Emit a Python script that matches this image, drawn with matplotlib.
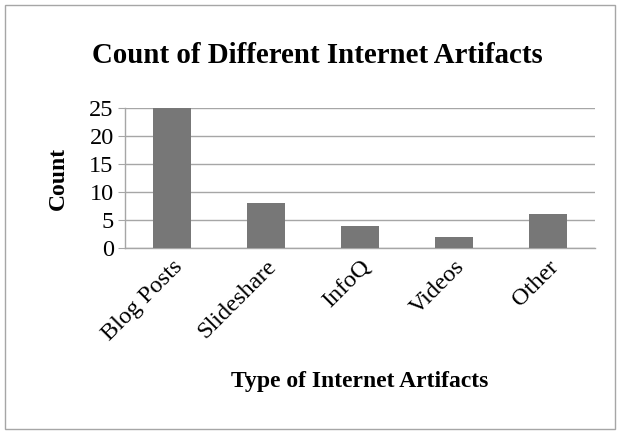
import matplotlib.pyplot as plt
from matplotlib.patches import Rectangle

categories = ['Blog Posts', 'Slideshare', 'InfoQ', 'Videos', 'Other']
counts = [25, 8, 4, 2, 6]
yticks = [0, 5, 10, 15, 20, 25]

plt.rcParams['font.family'] = ['Liberation Serif', 'DejaVu Serif']

fig = plt.figure(figsize=(6.21, 4.34), dpi=100)
ax = fig.add_axes([0.201, 0.4286, 0.757, 0.3226])

ax.bar(range(len(categories)), counts, width=0.4, color='#777777', zorder=3)
ax.set_xlim(-0.5, len(categories) - 0.5)
ax.set_ylim(0, 25)
ax.set_yticks(yticks)
ax.set_xticks(range(len(categories)))
ax.set_xticklabels(categories, rotation=45, ha='right', rotation_mode='anchor')
ax.tick_params(axis='x', length=0, labelsize=17.5, pad=6)
ax.tick_params(axis='y', length=5, color='#a6a6a6', labelsize=17.5, pad=3)
ax.grid(axis='y', color='#a6a6a6', linewidth=1, zorder=0)

for side in ['top', 'right']:
    ax.spines[side].set_visible(False)
for side in ['left', 'bottom']:
    ax.spines[side].set_color('#a6a6a6')
    ax.spines[side].set_linewidth(1)

fig.text(0.094, 0.59, 'Count', rotation=90, ha='center', va='center',
         fontsize=17, fontweight='bold')
fig.text(0.511, 0.873, 'Count of Different Internet Artifacts', ha='center', va='center',
         fontsize=20.8, fontweight='bold')
fig.text(0.58, 0.122, 'Type of Internet Artifacts', ha='center', va='center',
         fontsize=17, fontweight='bold')

fig.patches.append(Rectangle((0.008, 0.012), 0.982, 0.976, transform=fig.transFigure,
                             fill=False, edgecolor='#a6a6a6', linewidth=1))

fig.savefig('out.png', dpi=100)
